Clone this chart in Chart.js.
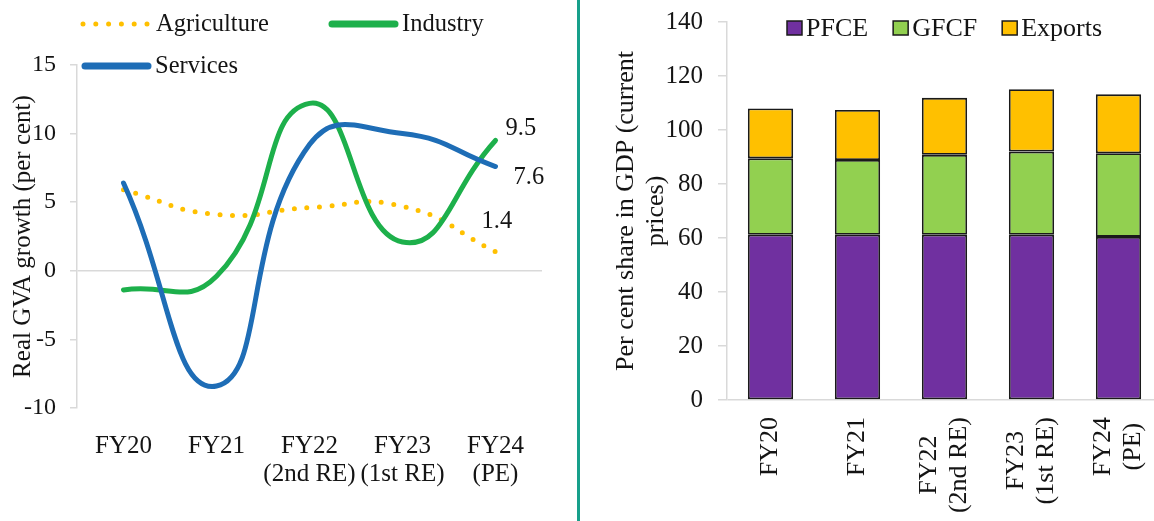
<!DOCTYPE html>
<html><head><meta charset="utf-8">
<script src="https://cdn.jsdelivr.net/npm/chart.js@4.4.1/dist/chart.umd.min.js"></script>
<style>
html,body{margin:0;padding:0;background:#fff;overflow:hidden;width:1154px;height:521px;}
#wrap{position:relative;width:1154px;height:521px;overflow:hidden;background:#fff;}
#c1{position:absolute;left:0;top:0;}
#c2{position:absolute;left:585px;top:0;}
#divider{position:absolute;left:577px;top:0;width:3px;height:521px;background:#17a08b;}
</style></head><body>
<div id="wrap">
<canvas id="c1" width="575" height="521"></canvas>
<div id="divider"></div>
<canvas id="c2" width="600" height="521"></canvas>
</div>
<script>
// ---- data ----
const categories = ['FY20', 'FY21', ['FY22', '(2nd RE)'], ['FY23', '(1st RE)'], ['FY24', '(PE)']];
const growthSeriesNames = ['Agriculture', 'Industry', 'Services'];
const agriculture = [5.9, 4.1, 4.6, 4.7, 1.4];
const industry = [-1.4, -0.4, 12.2, 2.1, 9.5];
const services = [6.4, -8.4, 9.2, 10.0, 7.6];
const growthTicks = [-10, -5, 0, 5, 10, 15];

const shareSeriesNames = ['PFCE', 'GFCF', 'Exports'];
const pfce = [61.2, 61.2, 61.2, 61.2, 60.4];
const gfcf = [28.3, 27.7, 29.6, 30.8, 31.0];
const exportsShare = [18.5, 18.5, 21.1, 23.1, 21.8];
const shareTicks = [0, 20, 40, 60, 80, 100, 120, 140];

// ---- styles ----
const FONT = "'Liberation Serif', 'Times New Roman', serif";
const TXT = '#141414';
const GRID = '#d9d9d9';

const zeroOnly = c => (c.tick && c.tick.value === 0) ? GRID : 'rgba(0,0,0,0)';

// legend for line chart (Excel-like two-column layout)
const lineLegendPlugin = {
  id: 'lineLegend',
  afterDraw(chart) {
    const ctx = chart.ctx;
    const slots = [{x: 83, y: 24}, {x: 329, y: 24}, {x: 82, y: 66}];
    chart.data.datasets.forEach((ds, i) => {
      const s = slots[i];
      ctx.save();
      ctx.strokeStyle = ds.borderColor;
      ctx.lineCap = 'round';
      if (ds.borderDash) {
        ctx.lineWidth = 5;
        ctx.setLineDash([0, 12.8]);
        ctx.beginPath(); ctx.moveTo(s.x, s.y); ctx.lineTo(s.x + 65, s.y); ctx.stroke();
      } else {
        ctx.lineWidth = 7;
        ctx.beginPath(); ctx.moveTo(s.x + 3, s.y); ctx.lineTo(s.x + 66, s.y); ctx.stroke();
      }
      ctx.setLineDash([]);
      ctx.font = '24.5px ' + FONT;
      ctx.fillStyle = TXT;
      ctx.textAlign = 'left';
      ctx.textBaseline = 'middle';
      ctx.fillText(ds.label, s.x + 73, s.y + 1);
      ctx.restore();
    });
  }
};

// value labels at the end of each line
const endLabelPlugin = {
  id: 'endLabels',
  afterDatasetsDraw(chart) {
    const ctx = chart.ctx;
    const offsets = [{dx: -14, dy: -30}, {dx: 10, dy: -12}, {dx: 18, dy: 11}];
    ctx.save();
    ctx.font = '24.5px ' + FONT;
    ctx.fillStyle = TXT;
    ctx.textAlign = 'left';
    ctx.textBaseline = 'middle';
    chart.data.datasets.forEach((ds, i) => {
      const meta = chart.getDatasetMeta(i);
      const pt = meta.data[meta.data.length - 1];
      const v = ds.data[ds.data.length - 1];
      ctx.fillText(v.toFixed(1), pt.x + offsets[i].dx, pt.y + offsets[i].dy);
    });
    ctx.restore();
  }
};

new Chart(document.getElementById('c1'), {
  type: 'line',
  data: {
    labels: categories,
    datasets: [
      {label: growthSeriesNames[0], data: agriculture, borderColor: '#FFC000', borderWidth: 5,
       borderDash: [0, 12.5], borderCapStyle: 'round', tension: 0.5, pointRadius: 0, fill: false, order: 2},
      {label: growthSeriesNames[1], data: industry, borderColor: '#1DB04B', borderWidth: 5,
       borderCapStyle: 'round', tension: 0.5, pointRadius: 0, fill: false, order: 1},
      {label: growthSeriesNames[2], data: services, borderColor: '#1E6DB6', borderWidth: 5,
       borderCapStyle: 'round', tension: 0.5, pointRadius: 0, fill: false, order: 0}
    ]
  },
  options: {
    responsive: false, animation: false, devicePixelRatio: 1,
    layout: {padding: {top: 65, right: 33, bottom: 0, left: 0}},
    plugins: {legend: {display: false}, tooltip: {enabled: false}},
    scales: {
      x: {
        offset: true,
        grid: {display: false, offset: true}, border: {display: false},
        ticks: {font: {family: FONT, size: 25, lineHeight: 1.1}, color: TXT, padding: 17,
                maxRotation: 0, minRotation: 0, autoSkip: false},
        afterFit: s => { s.height = 113; }
      },
      y: {
        min: -10, max: 15,
        afterBuildTicks: s => { s.ticks = growthTicks.map(v => ({value: v})); },
        grid: {color: zeroOnly, tickColor: GRID, tickLength: 7, lineWidth: 1.5},
        border: {color: GRID, width: 1.5},
        ticks: {font: {family: FONT, size: 24}, color: TXT, padding: 14},
        title: {display: true, text: 'Real GVA growth (per cent)', color: TXT,
                font: {family: FONT, size: 25, lineHeight: 1.2}, padding: {top: 8, bottom: 0}},
        afterFit: s => { s.width = 77; s.paddingTop = 0; s.paddingBottom = 0; }
      }
    }
  },
  plugins: [lineLegendPlugin, endLabelPlugin]
});

// legend for bar chart
const barLegendPlugin = {
  id: 'barLegend',
  afterDraw(chart) {
    const ctx = chart.ctx;
    let x = 202;
    const y = 28;
    ctx.save();
    ctx.font = '26px ' + FONT;
    ctx.textAlign = 'left';
    ctx.textBaseline = 'middle';
    chart.data.datasets.forEach(ds => {
      ctx.fillStyle = ds.backgroundColor;
      ctx.fillRect(x, y - 7, 15, 14);
      ctx.strokeStyle = '#1a1a1a';
      ctx.lineWidth = 1.5;
      ctx.strokeRect(x, y - 7, 15, 14);
      ctx.fillStyle = TXT;
      ctx.fillText(ds.label, x + 19, y + 1);
      x += 19 + ctx.measureText(ds.label).width + 25;
    });
    ctx.restore();
  }
};

// vertical category labels, lines centred like the original
const rotatedLabelPlugin = {
  id: 'rotLabels',
  afterDraw(chart) {
    const ctx = chart.ctx;
    const xs = chart.scales.x;
    const lh = 30;
    ctx.save();
    ctx.font = '26px ' + FONT;
    ctx.fillStyle = TXT;
    ctx.textAlign = 'center';
    ctx.textBaseline = 'middle';
    chart.data.labels.forEach((lab, i) => {
      const lines = Array.isArray(lab) ? lab : [lab];
      const maxW = Math.max(...lines.map(l => ctx.measureText(l).width));
      const px = xs.getPixelForValue(i);
      const cy = xs.top + 17 + maxW / 2;
      lines.forEach((line, j) => {
        const x = px + (j - (lines.length - 1) / 2) * lh;
        ctx.save();
        ctx.translate(x, cy);
        ctx.rotate(-Math.PI / 2);
        ctx.fillText(line, 0, 0);
        ctx.restore();
      });
    });
    ctx.restore();
  }
};

const barStyle = {borderColor: '#1a1a1a', borderWidth: 1.8, borderSkipped: false,
                  categoryPercentage: 1, barPercentage: 0.52};

new Chart(document.getElementById('c2'), {
  type: 'bar',
  data: {
    labels: categories,
    datasets: [
      Object.assign({label: shareSeriesNames[0], data: pfce, backgroundColor: '#7030A0'}, barStyle),
      Object.assign({label: shareSeriesNames[1], data: gfcf, backgroundColor: '#92D050'}, barStyle),
      Object.assign({label: shareSeriesNames[2], data: exportsShare, backgroundColor: '#FFC000'}, barStyle)
    ]
  },
  options: {
    responsive: false, animation: false, devicePixelRatio: 1,
    layout: {padding: {top: 22, right: 23, bottom: 0, left: 0}},
    plugins: {legend: {display: false}, tooltip: {enabled: false}},
    scales: {
      x: {
        stacked: true, grid: {display: false}, border: {display: false},
        ticks: {display: false},
        afterFit: s => { s.height = 121; }
      },
      y: {
        stacked: true, min: 0, max: 140,
        afterBuildTicks: s => { s.ticks = shareTicks.map(v => ({value: v})); },
        grid: {color: zeroOnly, tickColor: GRID, tickLength: 9, lineWidth: 1.5},
        border: {color: GRID, width: 1.5},
        ticks: {font: {family: FONT, size: 25}, color: TXT, padding: 15},
        title: {display: true, text: ['Per cent share in GDP (current', 'prices)'], color: TXT,
                font: {family: FONT, size: 26, lineHeight: 1.15}, padding: {top: 26, bottom: 0}},
        afterFit: s => { s.width = 142; s.paddingTop = 0; s.paddingBottom = 0; }
      }
    }
  },
  plugins: [barLegendPlugin, rotatedLabelPlugin]
});
</script>
</body></html>
